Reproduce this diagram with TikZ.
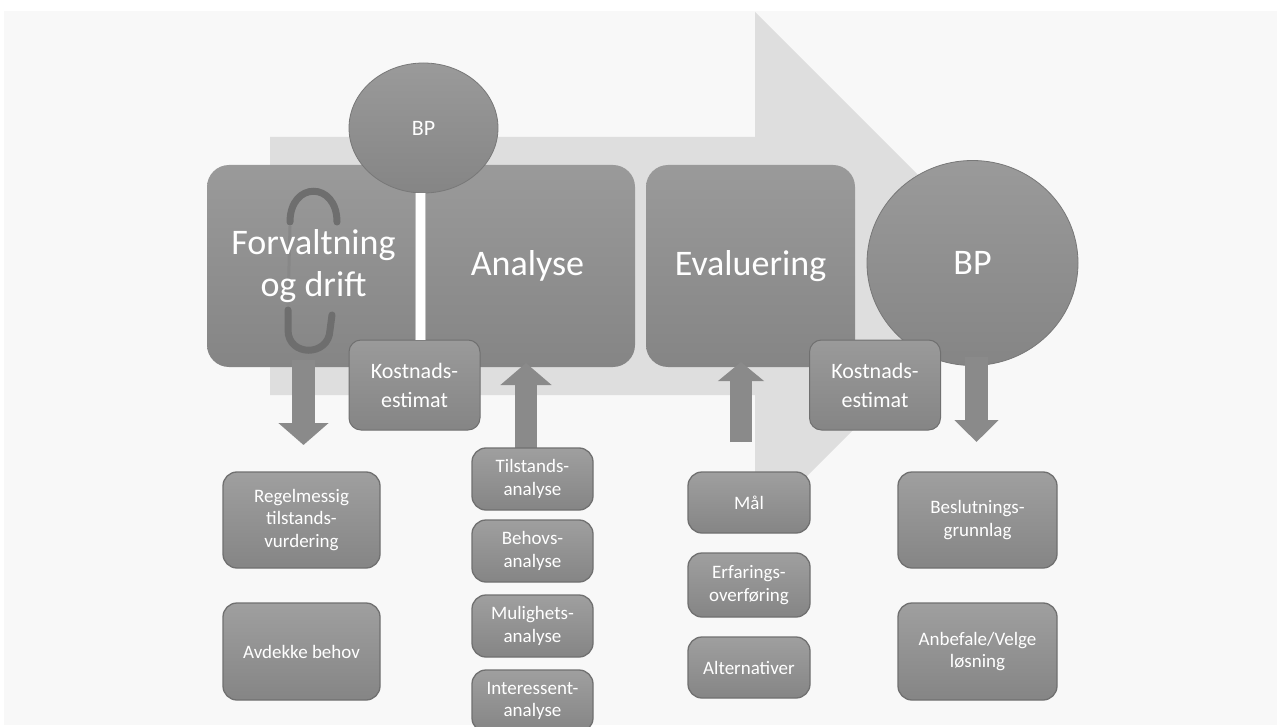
\documentclass[tikz,border=0pt]{standalone}
\usepackage{fontspec}
\setmainfont{Carlito}
\usetikzlibrary{shapes.geometric,arrows.meta,calc}

\definecolor{bgc}{HTML}{F8F8F8}
\definecolor{flowc}{HTML}{DEDEDE}
\definecolor{boxtop}{HTML}{9A9A9A}
\definecolor{boxbot}{HTML}{858585}
\definecolor{edgec}{HTML}{707070}
\definecolor{cyclec}{HTML}{6E6E6E}
\definecolor{arrc}{HTML}{8A8A8A}

\tikzset{
  mainbox/.style={rectangle, rounded corners=22pt, top color=boxtop, bottom color=boxbot,
    draw=none, text=white, align=center, inner sep=0pt,
    font=\fontsize{36}{42}\selectfont},
  maintext/.style={text=white, align=center, inner sep=0pt,
    font=\fontsize{36}{42}\selectfont},
  estbox/.style={rectangle, rounded corners=12pt, top color=boxtop, bottom color=boxbot,
    draw=edgec, line width=1pt, text=white, align=center, inner sep=0pt,
    minimum width=131pt, minimum height=90pt, font=\fontsize{22}{29}\selectfont},
  subbox/.style={rectangle, rounded corners=14pt, top color=boxtop!95!white, bottom color=boxbot,
    draw=edgec, line width=1.3pt, text=white, align=center, inner sep=0pt,
    font=\fontsize{19}{22.5}\selectfont},
  bpnode/.style={ellipse, inner sep=0pt, top color=boxtop, bottom color=boxbot,
    draw=edgec!80!boxtop, line width=0.8pt, text=white},
  blockarrow/.style={draw=arrc, fill=arrc, line cap=butt},
  cyclemark/.style={draw=cyclec, line width=7pt, line cap=round},
  splitbar/.style={draw=black!25, line width=1pt, double=white, double distance=9pt}
}

\begin{document}
\begin{tikzpicture}[x=1pt, y=-1pt]
  % page and backdrop
  \useasboundingbox (0,0) rectangle (1277,727);
  \fill[white] (0,0) rectangle (1277,727);
  \fill[bgc] (4,11) rectangle (1277,725);

  % large process arrow in the background
  \fill[flowc] (270,137) -- (755,137) -- (755,12) -- (1013,270)
               -- (755,528) -- (755,395) -- (270,395) -- cycle;

  % main phases
  \node[mainbox, minimum width=213pt, minimum height=202pt] (fd) at (313.5,266) {};
  \node[mainbox, minimum width=215pt, minimum height=202pt] (an) at (527.5,266) {Analyse};
  \node[mainbox, minimum width=209pt, minimum height=202pt] (ev) at (750.5,266) {Evaluering};

  % recurring-cycle symbol behind the first phase title
  \draw[draw=boxtop!88!black, line width=3pt] (290,226) -- (288,306);
  \draw[cyclemark] (290,222) .. controls (290,181) and (337,181) .. (337,222);
  \draw[cyclemark] (288,310) -- (288,330) .. controls (288,357) and (329,357) .. (330,330)
                   -- (332,315);
  \node[maintext] (fdtitle) at (fd.center) {Forvaltning\\og drift};

  % decision points
  \node[bpnode, minimum width=149pt, minimum height=130pt,
        font=\fontsize{22}{26}\selectfont] (bp1) at (423.5,128) {BP};
  \node[bpnode, minimum width=211pt, minimum height=205pt,
        font=\fontsize{36}{42}\selectfont] (bp2) at (972.5,263) {BP};

  % cost estimates
  \node[estbox] (ke1) at (414.5,385) {Kostnads-\\estimat};
  \node[estbox] (ke2) at (875,385) {Kostnads-\\estimat};

  % link from the first decision point to its cost estimate
  \draw[splitbar] (bp1.south -| fd.east) -- (ke1.north -| fd.east);

  % arrow end points
  \coordinate (d1s) at (303.5,360);
  \coordinate (d1e) at (303.5,445);
  \coordinate (u1s) at (526,462);
  \coordinate (u1e) at (526,363);
  \coordinate (u2s) at (741,442);
  \coordinate (u2e) at (741,362);
  \coordinate (d2s) at (976.5,357);
  \coordinate (d2e) at (976.5,442);

  % block arrows between phases and activities
  \draw[blockarrow, line width=23pt, -{Triangle[width=49pt,length=22pt]}] (d1s) -- (d1e);
  \draw[blockarrow, line width=22pt, -{Triangle[width=50pt,length=22pt]}] (u1s) -- (u1e);
  \draw[blockarrow, line width=22pt, -{Triangle[width=45pt,length=19pt]}] (u2s) -- (u2e);
  \draw[blockarrow, line width=23pt, -{Triangle[width=43pt,length=22pt]}] (d2s) -- (d2e);

  % activities below each phase
  \node[subbox, minimum width=157pt, minimum height=96pt] (rtv) at (301.5,520)
       {Regelmessig\\tilstands-\\vurdering};
  \node[subbox, minimum width=157pt, minimum height=97pt] (ab) at (301.5,651.5)
       {Avdekke behov};
  \node[subbox, minimum width=121pt, minimum height=62pt] (ta) at (532.5,479)
       {Tilstands-\\analyse};
  \node[subbox, minimum width=121pt, minimum height=62pt] (ba) at (532.5,551)
       {Behovs-\\analyse};
  \node[subbox, minimum width=121pt, minimum height=62pt] (ma) at (532.5,626)
       {Mulighets-\\analyse};
  \node[subbox, minimum width=121pt, minimum height=62pt] (ia) at (532.5,701)
       {Interessent-\\analyse};
  \node[subbox, minimum width=122pt, minimum height=61pt] (mal) at (749,502.5) {Mål};
  \node[subbox, minimum width=122pt, minimum height=64pt] (ef) at (749,585)
       {Erfarings-\\overføring};
  \node[subbox, minimum width=122pt, minimum height=61pt] (alt) at (749,667.5)
       {Alternativer};
  \node[subbox, minimum width=159pt, minimum height=96pt] (bg) at (977.5,520)
       {Beslutnings-\\grunnlag};
  \node[subbox, minimum width=159pt, minimum height=97pt] (avl) at (977.5,651.5)
       {Anbefale/Velge\\løsning};
\end{tikzpicture}
\end{document}
